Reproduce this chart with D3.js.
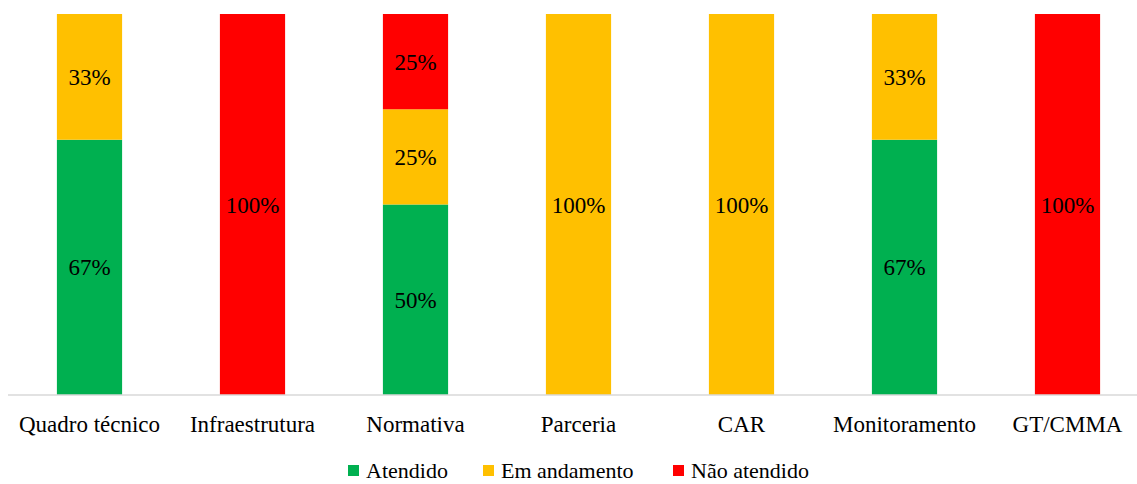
<!DOCTYPE html>
<html>
<head>
<meta charset="utf-8">
<script src="https://cdn.jsdelivr.net/npm/d3@7"></script>
<style>
  body { margin: 0; background: #fff; }
</style>
</head>
<body>
<svg id="chart" width="1137" height="484"></svg>
<script>
// categories and series (percent)
const categories = ['Quadro técnico', 'Infraestrutura', 'Normativa', 'Parceria', 'CAR', 'Monitoramento', 'GT/CMMA'];
const atendido = [67, 0, 50, 0, 0, 67, 0];
const emAndamento = [33, 0, 25, 100, 100, 33, 0];
const naoAtendido = [0, 100, 25, 0, 0, 0, 100];
const seriesNames = ['Atendido', 'Em andamento', 'Não atendido'];
const colors = ['#00b050', '#ffc000', '#ff0000'];

const FONT = 'Liberation Serif, Tinos, Times New Roman, Times, DejaVu Serif, serif';
const svg = d3.select('#chart').attr('font-family', FONT);

// build table for the stack
const table = categories.map((c, i) => ({
  cat: c, 'Atendido': atendido[i], 'Em andamento': emAndamento[i], 'Não atendido': naoAtendido[i]
}));
const stacked = d3.stack().keys(seriesNames)(table);

const x = d3.scaleBand()
  .domain(categories)
  .range([8, 1149])
  .paddingInner(0.6)
  .paddingOuter(0.3);

const y = d3.scaleLinear().domain([0, 100]).range([395, 14]);

// bars
const layers = svg.append('g').selectAll('g')
  .data(stacked)
  .enter().append('g')
  .attr('fill', (d, i) => colors[i]);

layers.selectAll('rect')
  .data(d => d.filter(s => s[1] - s[0] > 0))
  .enter().append('rect')
  .attr('x', d => x(d.data.cat))
  .attr('y', d => y(d[1]))
  .attr('width', x.bandwidth())
  .attr('height', d => y(d[0]) - y(d[1]));

// labels inside segments
layers.selectAll('text')
  .data(d => d.filter(s => s[1] - s[0] > 0))
  .enter().append('text')
  .attr('x', d => x(d.data.cat) + x.bandwidth() / 2)
  .attr('y', d => (y(d[0]) + y(d[1])) / 2)
  .attr('dy', '0.35em')
  .attr('text-anchor', 'middle')
  .attr('font-family', FONT)
  .attr('font-size', 23)
  .attr('fill', '#000')
  .text(d => (d[1] - d[0]) + '%');

// x axis
const axis = svg.append('g')
  .attr('transform', 'translate(0,395)')
  .call(d3.axisBottom(x).tickSize(0).tickPadding(21));
axis.attr('font-family', FONT).attr('font-size', 23);
axis.select('.domain').attr('stroke', '#d9d9d9').attr('stroke-width', 1.5).attr('d', 'M8,0H1137');
axis.selectAll('text').attr('fill', '#000');

// legend
const legendX = [348, 483, 673];
const legend = svg.append('g').attr('transform', 'translate(0,470)');
seriesNames.forEach((name, i) => {
  legend.append('rect')
    .attr('x', legendX[i]).attr('y', -5)
    .attr('width', 11).attr('height', 11)
    .attr('fill', colors[i]);
  legend.append('text')
    .attr('x', legendX[i] + 18).attr('y', 0)
    .attr('dy', '0.35em')
    .attr('font-family', FONT)
    .attr('font-size', 22)
    .attr('fill', '#000')
    .text(name);
});
</script>
</body>
</html>
